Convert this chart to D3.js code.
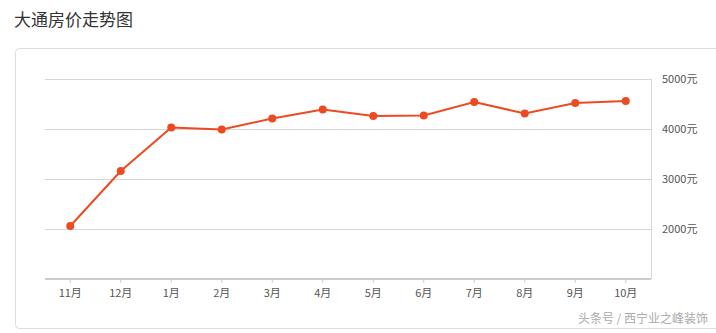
<!DOCTYPE html>
<html><head><meta charset="utf-8">
<script src="https://cdn.jsdelivr.net/npm/d3@7"></script>
<style>body{margin:0;background:#fff;}svg{display:block;font-family:"Noto Sans CJK SC","Open Sans",sans-serif;}</style>
</head><body><svg id="c" width="716" height="333"></svg>
<script>
const title = "大通房价走势图";
const months = ["11月","12月","1月","2月","3月","4月","5月","6月","7月","8月","9月","10月"];
const prices = [2060,3160,4030,3990,4210,4390,4260,4270,4540,4310,4520,4560];
const yTicks = [2000,3000,4000,5000];
const watermark = "头条号 / 西宁业之峰装饰";

const svg = d3.select("#c");
svg.append("text").attr("x",14).attr("y",26).attr("font-size",17).attr("fill","#333").text(title);
svg.append("rect").attr("x",15.5).attr("y",48.5).attr("width",720).attr("height",280).attr("rx",4)
  .attr("fill","none").attr("stroke","#ddd");

const x = d3.scaleBand().domain(months).range([45,651]);
const y = d3.scaleLinear().domain([1000,5000]).range([279,79]);

const g = svg.append("g");
g.selectAll("line.grid").data(yTicks).join("line")
  .attr("x1",45).attr("x2",651).attr("y1",d=>Math.round(y(d))+0.5).attr("y2",d=>Math.round(y(d))+0.5)
  .attr("stroke","#d6d6d6");
g.append("line").attr("x1",651.5).attr("x2",651.5).attr("y1",y(5000)).attr("y2",y(1000)).attr("stroke","#d6d6d6");

const yAxis = g.append("g").attr("transform","translate(651,0)")
  .call(d3.axisRight(y).tickValues(yTicks).tickSize(0).tickPadding(11).tickFormat(d=>d+"元"));
yAxis.select(".domain").remove();
yAxis.selectAll("text").attr("font-size",11).attr("fill","#555").attr("font-family",'"Noto Sans CJK SC","Open Sans",sans-serif');

const xAxis = g.append("g").attr("transform","translate(0,279)")
  .call(d3.axisBottom(x).tickSize(4).tickPadding(6));
xAxis.select(".domain").attr("stroke","#ccc").attr("stroke-width",2).attr("d","M45,0H651");
xAxis.selectAll(".tick line").attr("stroke","#ccc");
xAxis.selectAll("text").attr("font-size",11).attr("fill","#555").attr("font-family",'"Noto Sans CJK SC","Open Sans",sans-serif');

const color = "#ee4a22";
const line = d3.line().x((d,i)=>x(months[i])+x.bandwidth()/2).y(d=>y(d));
g.append("path").datum(prices).attr("d",line).attr("fill","none").attr("stroke",color).attr("stroke-width",2);
g.selectAll("circle").data(prices).join("circle")
  .attr("cx",(d,i)=>x(months[i])+x.bandwidth()/2).attr("cy",d=>y(d)).attr("r",4).attr("fill",color);

svg.append("text").attr("x",708).attr("y",323).attr("text-anchor","end").attr("font-size",12).attr("fill","#aaa").text(watermark);
</script></body></html>
